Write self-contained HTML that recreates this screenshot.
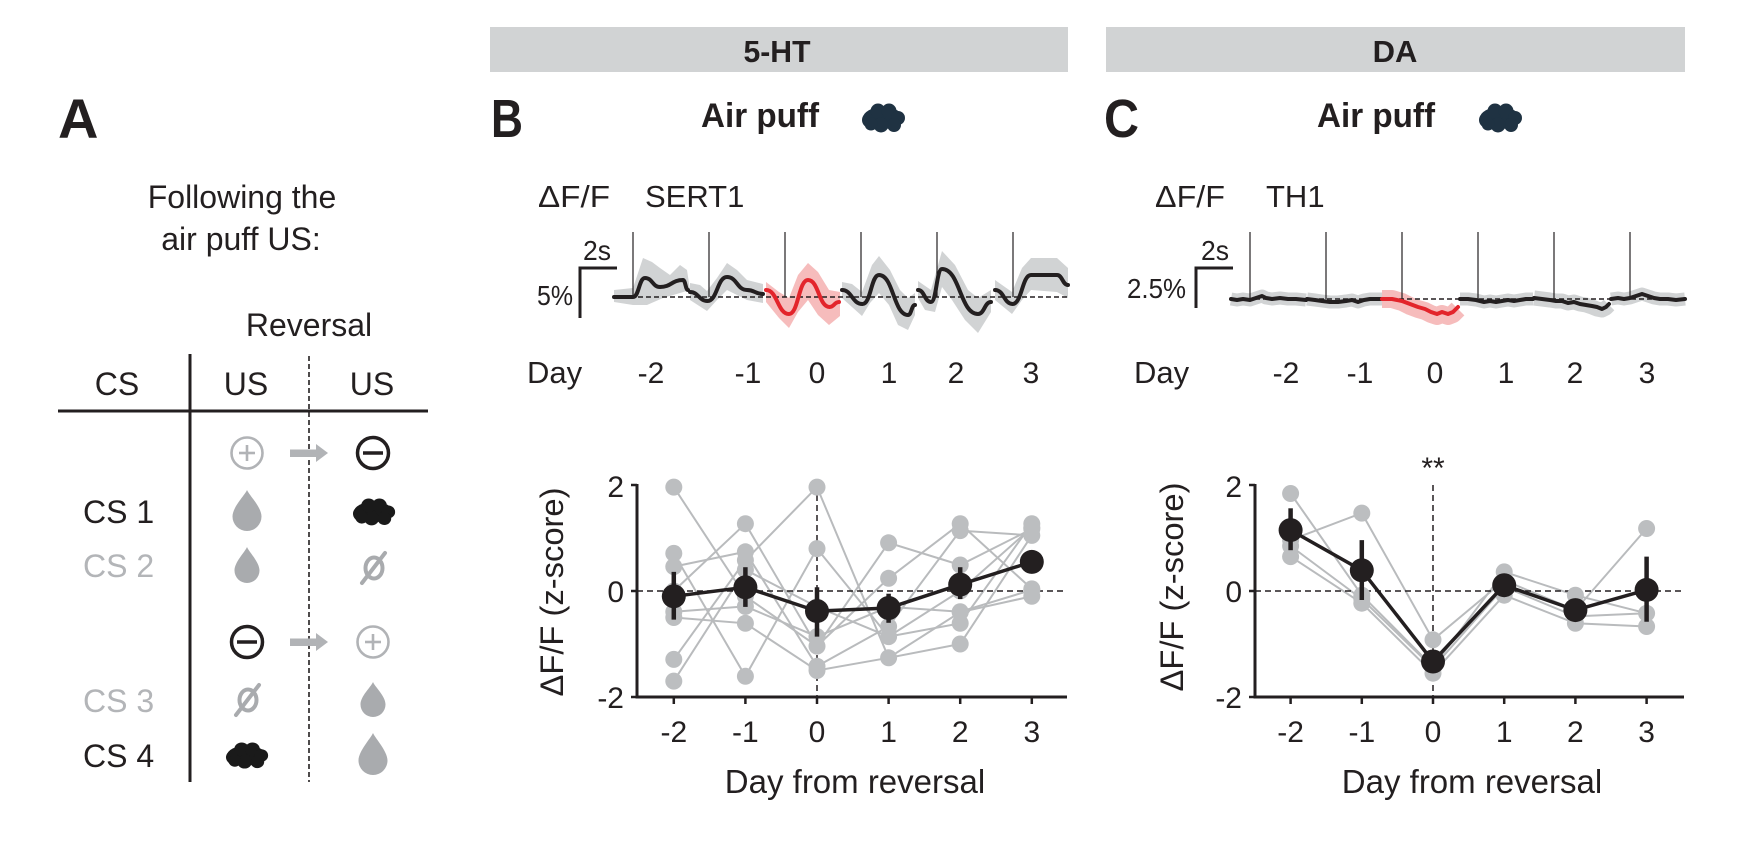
<!DOCTYPE html>
<html><head><meta charset="utf-8"><style>
html,body{margin:0;padding:0;background:#fff;}
svg{display:block;}
text{font-family:"Liberation Sans",Arial,sans-serif;fill:#231f20;}
</style></head><body>
<svg width="1737" height="860" viewBox="0 0 1737 860" xmlns="http://www.w3.org/2000/svg">
<rect width="1737" height="860" fill="#fff"/>

<!-- Header bars -->
<rect x="490" y="27" width="578" height="45" fill="#d1d3d4"/>
<text x="777" y="62" font-size="31" font-weight="bold" text-anchor="middle" textLength="67" lengthAdjust="spacingAndGlyphs">5-HT</text>
<rect x="1106" y="27" width="579" height="45" fill="#d1d3d4"/>
<text x="1395" y="62" font-size="31" font-weight="bold" text-anchor="middle">DA</text>

<!-- Panel letters -->
<text x="58" y="138" font-size="56" font-weight="bold">A</text>
<text x="491" y="137" font-size="54" font-weight="bold" textLength="32" lengthAdjust="spacingAndGlyphs">B</text>
<text x="1104" y="137" font-size="54" font-weight="bold" textLength="35" lengthAdjust="spacingAndGlyphs">C</text>

<!-- Air puff titles -->
<text x="701" y="127" font-size="34" font-weight="bold" textLength="118" lengthAdjust="spacingAndGlyphs">Air puff</text>
<text x="1317" y="127" font-size="34" font-weight="bold" textLength="118" lengthAdjust="spacingAndGlyphs">Air puff</text>
<g transform="translate(861,103)" fill="#1f3242">
<ellipse cx="22" cy="15" rx="20" ry="11"/><circle cx="9" cy="17" r="8"/><circle cx="17" cy="8" r="7.5"/><circle cx="28" cy="8" r="7.5"/><circle cx="37" cy="15" r="7"/><circle cx="33" cy="22" r="7"/><circle cx="20" cy="22" r="7.5"/><circle cx="10" cy="21" r="6.5"/>
</g>
<g transform="translate(1478,103)" fill="#1f3242">
<ellipse cx="22" cy="15" rx="20" ry="11"/><circle cx="9" cy="17" r="8"/><circle cx="17" cy="8" r="7.5"/><circle cx="28" cy="8" r="7.5"/><circle cx="37" cy="15" r="7"/><circle cx="33" cy="22" r="7"/><circle cx="20" cy="22" r="7.5"/><circle cx="10" cy="21" r="6.5"/>
</g>

<!-- ===== Panel A ===== -->
<text x="242" y="208" font-size="32" text-anchor="middle">Following the</text>
<text x="241" y="250" font-size="32" text-anchor="middle">air puff US:</text>
<text x="309" y="336" font-size="32" text-anchor="middle">Reversal</text>
<text x="117" y="395" font-size="32" text-anchor="middle">CS</text>
<text x="246" y="395" font-size="32" text-anchor="middle">US</text>
<text x="372" y="395" font-size="32" text-anchor="middle">US</text>
<line x1="58" y1="411" x2="428" y2="411" stroke="#231f20" stroke-width="3"/>
<line x1="190" y1="354" x2="190" y2="782" stroke="#231f20" stroke-width="3"/>
<line x1="309" y1="356" x2="309" y2="782" stroke="#231f20" stroke-width="1.6" stroke-dasharray="5 3"/>

<!-- row 1 icons -->
<circle cx="247" cy="453" r="15.5" fill="none" stroke="#b1b3b6" stroke-width="2.6"/>
<line x1="239" y1="453" x2="255" y2="453" stroke="#b1b3b6" stroke-width="2.6"/>
<line x1="247" y1="445" x2="247" y2="461" stroke="#b1b3b6" stroke-width="2.6"/>
<rect x="290" y="449.5" width="27" height="7.5" fill="#b1b3b6"/>
<polygon points="316,444 328,453 316,462" fill="#b1b3b6"/>
<circle cx="373" cy="453" r="15.5" fill="none" stroke="#231f20" stroke-width="3.5"/>
<line x1="363" y1="453" x2="383" y2="453" stroke="#231f20" stroke-width="3.5"/>

<!-- row 2 icons -->
<circle cx="247" cy="642" r="15.5" fill="none" stroke="#231f20" stroke-width="3.5"/>
<line x1="237" y1="642" x2="257" y2="642" stroke="#231f20" stroke-width="3.5"/>
<rect x="290" y="638.5" width="27" height="7.5" fill="#b1b3b6"/>
<polygon points="316,633 328,642 316,651" fill="#b1b3b6"/>
<circle cx="373" cy="642" r="15.5" fill="none" stroke="#b1b3b6" stroke-width="2.6"/>
<line x1="365" y1="642" x2="381" y2="642" stroke="#b1b3b6" stroke-width="2.6"/>
<line x1="373" y1="634" x2="373" y2="650" stroke="#b1b3b6" stroke-width="2.6"/>

<!-- CS labels -->
<text x="83" y="523" font-size="32">CS 1</text>
<text x="83" y="577" font-size="32" style="fill:#b3b5b8">CS 2</text>
<text x="83" y="712" font-size="32" style="fill:#b3b5b8">CS 3</text>
<text x="83" y="767" font-size="32">CS 4</text>

<!-- drops -->
<path d="M247,490 C249,495 261.5,507 261.5,516.5 A14.5,14.5 0 0 1 232.5,516.5 C232.5,507 245,495 247,490 Z" fill="#a9abae"/>
<path d="M247,547 C249,552 259.5,562 259.5,570.5 A12.5,12.5 0 0 1 234.5,570.5 C234.5,562 245,552 247,547 Z" fill="#a9abae"/>
<path d="M373,682 C375,687 385.5,696 385.5,704.5 A12.5,12.5 0 0 1 360.5,704.5 C360.5,696 371,687 373,682 Z" fill="#a9abae"/>
<path d="M373,733 C375,738 387.5,751 387.5,760.5 A14.5,14.5 0 0 1 358.5,760.5 C358.5,751 371,738 373,733 Z" fill="#a9abae"/>

<!-- null symbols -->
<ellipse cx="374" cy="568" rx="8.5" ry="10.5" fill="none" stroke="#a9abae" stroke-width="4"/>
<line x1="385" y1="553" x2="362" y2="583" stroke="#a9abae" stroke-width="4" stroke-linecap="round"/>
<ellipse cx="248" cy="700" rx="8.5" ry="10.5" fill="none" stroke="#a9abae" stroke-width="4"/>
<line x1="259" y1="685" x2="236" y2="715" stroke="#a9abae" stroke-width="4" stroke-linecap="round"/>

<!-- black clouds -->
<g transform="translate(352,498) scale(0.98,0.93)" fill="#1a1a1a">
<ellipse cx="22" cy="15" rx="20" ry="11"/><circle cx="9" cy="17" r="8"/><circle cx="17" cy="8" r="7.5"/><circle cx="28" cy="8" r="7.5"/><circle cx="37" cy="15" r="7"/><circle cx="33" cy="22" r="7"/><circle cx="20" cy="22" r="7.5"/><circle cx="10" cy="21" r="6.5"/>
</g>
<g transform="translate(225,742) scale(0.98,0.9)" fill="#1a1a1a">
<ellipse cx="22" cy="15" rx="20" ry="11"/><circle cx="9" cy="17" r="8"/><circle cx="17" cy="8" r="7.5"/><circle cx="28" cy="8" r="7.5"/><circle cx="37" cy="15" r="7"/><circle cx="33" cy="22" r="7"/><circle cx="20" cy="22" r="7.5"/><circle cx="10" cy="21" r="6.5"/>
</g>

<!-- ===== Panel B traces ===== -->
<text x="538" y="207" font-size="31" textLength="72" lengthAdjust="spacingAndGlyphs">ΔF/F</text>
<text x="645" y="207" font-size="31">SERT1</text>
<polyline points="580,318 580,268 617,268" fill="none" stroke="#231f20" stroke-width="3"/>
<text x="583" y="260" font-size="28" textLength="28" lengthAdjust="spacingAndGlyphs">2s</text>
<text x="573" y="305" font-size="28" text-anchor="end" textLength="36" lengthAdjust="spacingAndGlyphs">5%</text>

<!-- bands -->
<g stroke-linejoin="round">
<polygon fill="#d1d3d4" points="614,290 633,288 643,258 652,262 660,268 670,275 680,265 687,270 690,290 680,293 663,298 647,305 633,305 614,302"/>
<polygon fill="#d1d3d4" points="690,283 700,285 707,291 717,278 727,263 737,270 747,280 763,284 763,303 747,300 737,295 727,290 717,300 707,311 690,300"/>
<polygon fill="#f6bcbc" points="766,282 779,292 789,298 798,275 808,263 818,272 829,290 840,292 840,316 829,325 818,315 808,300 798,312 789,328 779,318 766,302"/>
<polygon fill="#d1d3d4" points="842,282 852,284 862,292 872,265 879,256 890,270 900,290 908,298 915,293 915,315 908,330 898,325 889,305 879,293 870,303 862,316 852,307 842,298"/>
<polygon fill="#d1d3d4" points="918,281 931,290 942,251 955,265 968,290 978,298 991,290 991,312 978,333 965,320 952,300 942,287 935,312 925,310 918,298"/>
<polygon fill="#d1d3d4" points="995,280 1012,292 1022,268 1031,258 1057,258 1068,268 1068,298 1057,292 1031,290 1022,300 1012,314 995,300"/>
</g>
<line x1="614" y1="297" x2="1067" y2="297" stroke="#231f20" stroke-width="1.5" stroke-dasharray="5 3"/>
<g stroke="#231f20" stroke-width="1.2">
<line x1="633" y1="232" x2="633" y2="297"/><line x1="709" y1="232" x2="709" y2="297"/><line x1="785" y1="232" x2="785" y2="297"/>
<line x1="861" y1="232" x2="861" y2="297"/><line x1="937" y1="232" x2="937" y2="297"/><line x1="1013" y1="232" x2="1013" y2="297"/>
</g>
<g fill="none" stroke-width="4" stroke-linejoin="round" stroke-linecap="round">
<path d="M614,297 L633,297 C639,297 639,278 645,278 C652.5,278 652.5,287 660,287 C671.5,287 671.5,280 683,280 C685.5,280 685.5,290 688,290" stroke="#231f20"/>
<path d="M690,292 C698.75,292 698.75,301 707.5,301 C717.25,301 717.25,277 727,277 C737,277 737,290 747,290 C755,290 755,294 763,294" stroke="#231f20"/>
<path d="M766,290 C777.5,290 777.5,314 789,314 C798.5,314 798.5,280 808,280 C818.75,280 818.75,307 829.5,307 C834.25,307 834.25,302 839,302" stroke="#e3242b"/>
<path d="M842,290 C852,290 852,304 862.5,304 C871,304 871,275 879,275 C893.5,275 893.5,315 908,315 C911.5,315 911.5,305 915,305" stroke="#231f20"/>
<path d="M918,290 C924.5,290 924.5,302 931,302 C936.5,302 936.5,269 942,269 C960,269 960,314 978,314 C984.5,314 984.5,302 991,302" stroke="#231f20"/>
<path d="M995,290 C1004,290 1004,304 1012.5,304 C1022,304 1022,275 1031,275 L1057,275 C1062.5,275 1062.5,285 1068,285" stroke="#231f20"/>
</g>
<text x="527" y="383" font-size="31">Day</text>
<g font-size="30" text-anchor="middle">
<text x="651" y="383">-2</text><text x="748" y="383">-1</text><text x="817" y="383">0</text>
<text x="889" y="383">1</text><text x="956" y="383">2</text><text x="1031" y="383">3</text>
</g>

<!-- ===== Panel B scatter ===== -->
<g fill="none" stroke="#b9bbbd" stroke-width="2">
<polyline points="673.8,487.1 745.4,596.3 817,646.1 888.6,578.3 960.2,523.7 1031.8,588.9"/>
<polyline points="673.8,553.4 745.4,676.3 817,548.6 888.6,636.6 960.2,623.3 1031.8,523.7"/>
<polyline points="673.8,566.6 745.4,551.8 817,666.3 888.6,626.5 960.2,530.6 1031.8,535.4"/>
<polyline points="673.8,591 745.4,523.7 817,646.1 888.6,542.8 960.2,565 1031.8,529"/>
<polyline points="673.8,611.7 745.4,606.4 817,636.6 888.6,606.9 960.2,611.7 1031.8,589.9"/>
<polyline points="673.8,617.5 745.4,623.3 817,670.5 888.6,657.8 960.2,644 1031.8,535.4"/>
<polyline points="673.8,659.4 745.4,560.3 817,487.1 888.6,657.8 960.2,612.2 1031.8,596.3"/>
<polyline points="673.8,681.1 745.4,569.8 817,606.9 888.6,636.6 960.2,591 1031.8,527.4"/>
</g>
<line x1="637" y1="591" x2="1067" y2="591" stroke="#231f20" stroke-width="1.5" stroke-dasharray="6 4"/>
<line x1="817" y1="485" x2="817" y2="697" stroke="#231f20" stroke-width="1.5" stroke-dasharray="6 4"/>
<g fill="#bcbec0">
<circle cx="673.8" cy="487.1" r="8.5"/><circle cx="673.8" cy="553.4" r="8.5"/><circle cx="673.8" cy="566.6" r="8.5"/><circle cx="673.8" cy="591" r="8.5"/><circle cx="673.8" cy="611.7" r="8.5"/><circle cx="673.8" cy="617.5" r="8.5"/><circle cx="673.8" cy="659.4" r="8.5"/><circle cx="673.8" cy="681.1" r="8.5"/>
<circle cx="745.4" cy="596.3" r="8.5"/><circle cx="745.4" cy="676.3" r="8.5"/><circle cx="745.4" cy="551.8" r="8.5"/><circle cx="745.4" cy="523.7" r="8.5"/><circle cx="745.4" cy="606.4" r="8.5"/><circle cx="745.4" cy="623.3" r="8.5"/><circle cx="745.4" cy="560.3" r="8.5"/><circle cx="745.4" cy="569.8" r="8.5"/>
<circle cx="817" cy="646.1" r="8.5"/><circle cx="817" cy="548.6" r="8.5"/><circle cx="817" cy="666.3" r="8.5"/><circle cx="817" cy="636.6" r="8.5"/><circle cx="817" cy="670.5" r="8.5"/><circle cx="817" cy="487.1" r="8.5"/><circle cx="817" cy="606.9" r="8.5"/>
<circle cx="888.6" cy="578.3" r="8.5"/><circle cx="888.6" cy="636.6" r="8.5"/><circle cx="888.6" cy="626.5" r="8.5"/><circle cx="888.6" cy="542.8" r="8.5"/><circle cx="888.6" cy="606.9" r="8.5"/><circle cx="888.6" cy="657.8" r="8.5"/>
<circle cx="960.2" cy="523.7" r="8.5"/><circle cx="960.2" cy="623.3" r="8.5"/><circle cx="960.2" cy="530.6" r="8.5"/><circle cx="960.2" cy="565" r="8.5"/><circle cx="960.2" cy="611.7" r="8.5"/><circle cx="960.2" cy="644" r="8.5"/><circle cx="960.2" cy="612.2" r="8.5"/><circle cx="960.2" cy="591" r="8.5"/>
<circle cx="1031.8" cy="588.9" r="8.5"/><circle cx="1031.8" cy="523.7" r="8.5"/><circle cx="1031.8" cy="535.4" r="8.5"/><circle cx="1031.8" cy="529" r="8.5"/><circle cx="1031.8" cy="589.9" r="8.5"/><circle cx="1031.8" cy="596.3" r="8.5"/><circle cx="1031.8" cy="527.4" r="8.5"/>
</g>
<polyline points="673.8,596.3 745.4,587.3 817,611.1 888.6,608 960.2,584.6 1031.8,561.9" fill="none" stroke="#231f20" stroke-width="3.5"/>
<g stroke="#231f20" stroke-width="4.5">
<line x1="673.8" y1="571.9" x2="673.8" y2="619.6"/><line x1="745.4" y1="567.2" x2="745.4" y2="606.9"/><line x1="817" y1="587.3" x2="817" y2="636.6"/>
<line x1="888.6" y1="593.7" x2="888.6" y2="622.8"/><line x1="960.2" y1="567.2" x2="960.2" y2="599"/><line x1="1031.8" y1="551.3" x2="1031.8" y2="572.5"/>
</g>
<g fill="#231f20">
<circle cx="673.8" cy="596.3" r="12"/><circle cx="745.4" cy="587.3" r="12"/><circle cx="817" cy="611.1" r="12"/><circle cx="888.6" cy="608" r="12"/><circle cx="960.2" cy="584.6" r="12"/><circle cx="1031.8" cy="561.9" r="12"/>
</g>
<polyline points="637,484 637,697 1067,697" fill="none" stroke="#231f20" stroke-width="3"/>
<g stroke="#231f20" stroke-width="2.5">
<line x1="631" y1="485" x2="637" y2="485"/><line x1="631" y1="591" x2="637" y2="591"/><line x1="631" y1="697" x2="637" y2="697"/>
<line x1="673.8" y1="697" x2="673.8" y2="704"/><line x1="745.4" y1="697" x2="745.4" y2="704"/><line x1="817" y1="697" x2="817" y2="704"/>
<line x1="888.6" y1="697" x2="888.6" y2="704"/><line x1="960.2" y1="697" x2="960.2" y2="704"/><line x1="1031.8" y1="697" x2="1031.8" y2="704"/>
</g>
<g font-size="30" text-anchor="end">
<text x="624" y="497">2</text><text x="624" y="602">0</text><text x="624" y="708">-2</text>
</g>
<g font-size="30" text-anchor="middle">
<text x="673.8" y="742">-2</text><text x="745.4" y="742">-1</text><text x="817" y="742">0</text>
<text x="888.6" y="742">1</text><text x="960.2" y="742">2</text><text x="1031.8" y="742">3</text>
</g>
<text x="855" y="793" font-size="33" text-anchor="middle">Day from reversal</text>
<text transform="translate(563,592) rotate(-90)" font-size="32" text-anchor="middle" textLength="209" lengthAdjust="spacingAndGlyphs">ΔF/F (z-score)</text>

<!-- ===== Panel C traces ===== -->
<text x="1155" y="207" font-size="31" textLength="70" lengthAdjust="spacingAndGlyphs">ΔF/F</text>
<text x="1266" y="207" font-size="31">TH1</text>
<polyline points="1196,308 1196,268 1233,268" fill="none" stroke="#231f20" stroke-width="3"/>
<text x="1201" y="260" font-size="28" textLength="28" lengthAdjust="spacingAndGlyphs">2s</text>
<text x="1186" y="298" font-size="28" text-anchor="end" textLength="59" lengthAdjust="spacingAndGlyphs">2.5%</text>

<g fill="none" stroke-linejoin="round" stroke-width="13">
<polyline stroke="#d1d3d4" points="1231,299 1237,300 1243,299 1250,300 1256,298 1262,296 1266,298 1272,299 1280,298 1288,299 1296,299 1306,300"/>
<polyline stroke="#d1d3d4" points="1307,299 1315,300 1322,301 1330,302 1338,302 1346,301 1352,300 1358,302 1364,300 1370,299 1376,299 1382,299"/>
<polyline stroke="#f6bcbc" stroke-width="18" points="1382,299 1392,299 1402,302 1410,306 1418,309 1425,311 1431,314 1437,316 1442,314 1448,316 1453,314 1458,309"/>
<polyline stroke="#d1d3d4" points="1460,299 1468,299 1476,300 1484,302 1490,301 1496,302 1502,301 1508,300 1514,301 1520,300 1526,299 1533,299"/>
<polyline stroke="#d1d3d4" stroke-width="15" points="1534,298 1542,299 1550,300 1556,301 1562,301 1568,303 1574,302 1580,304 1586,305 1592,307 1597,309 1602,310 1606,308 1609,305"/>
<polyline stroke="#d1d3d4" points="1611,299 1618,298 1624,299 1630,298 1636,296 1642,294 1648,296 1654,298 1660,299 1668,299 1676,300 1685,299"/>
</g>
<line x1="1231" y1="299" x2="1685" y2="299" stroke="#231f20" stroke-width="1.5" stroke-dasharray="5 3"/>
<g stroke="#231f20" stroke-width="1.2">
<line x1="1250" y1="232" x2="1250" y2="299"/><line x1="1326" y1="232" x2="1326" y2="299"/><line x1="1402" y1="232" x2="1402" y2="299"/>
<line x1="1478" y1="232" x2="1478" y2="299"/><line x1="1554" y1="232" x2="1554" y2="299"/><line x1="1630" y1="232" x2="1630" y2="299"/>
</g>
<g fill="none" stroke-linejoin="round" stroke-linecap="round" stroke-width="4">
<polyline stroke="#231f20" points="1231,299 1237,300 1243,299 1250,300 1256,298 1262,296 1266,298 1272,299 1280,298 1288,299 1296,299 1306,300"/>
<polyline stroke="#231f20" points="1307,299 1315,300 1322,301 1330,302 1338,302 1346,301 1352,300 1358,302 1364,300 1370,299 1376,299 1382,299"/>
<polyline stroke="#e3242b" points="1382,299 1392,299 1402,301 1410,304 1418,307 1425,309 1431,312 1437,314 1442,312 1448,314 1453,312 1458,307"/>
<polyline stroke="#231f20" points="1460,299 1468,299 1476,300 1484,302 1490,301 1496,302 1502,301 1508,300 1514,301 1520,300 1526,299 1533,299"/>
<polyline stroke="#231f20" points="1534,298 1542,299 1550,300 1556,301 1562,301 1568,303 1574,302 1580,304 1586,305 1592,306 1597,307 1602,309 1606,307 1609,304"/>
<polyline stroke="#231f20" points="1611,299 1618,298 1624,299 1630,298 1636,296 1642,294 1648,296 1654,298 1660,299 1668,299 1676,300 1685,299"/>
</g>
<text x="1134" y="383" font-size="31">Day</text>
<g font-size="30" text-anchor="middle">
<text x="1286" y="383">-2</text><text x="1360" y="383">-1</text><text x="1435" y="383">0</text>
<text x="1506" y="383">1</text><text x="1575" y="383">2</text><text x="1647" y="383">3</text>
</g>

<!-- ===== Panel C scatter ===== -->
<text x="1433" y="478" font-size="30" text-anchor="middle">**</text>
<g fill="none" stroke="#b9bbbd" stroke-width="2">
<polyline points="1290.6,493.5 1361.8,595.2 1433,666.8 1504.2,571.9 1575.4,595.2 1646.6,613.3"/>
<polyline points="1290.6,540.1 1361.8,513.1 1433,639.8 1504.2,580.4 1575.4,610.1 1646.6,528.5"/>
<polyline points="1290.6,556.6 1361.8,603.2 1433,673.2 1504.2,595.2 1575.4,623.3 1646.6,626.5"/>
<polyline points="1290.6,546 1361.8,599 1433,667.9 1504.2,586.8 1575.4,616.4 1646.6,613.3"/>
</g>
<line x1="1255" y1="591" x2="1684" y2="591" stroke="#231f20" stroke-width="1.5" stroke-dasharray="6 4"/>
<line x1="1433" y1="485" x2="1433" y2="697" stroke="#231f20" stroke-width="1.5" stroke-dasharray="6 4"/>
<g fill="#bcbec0">
<circle cx="1290.6" cy="493.5" r="8.5"/><circle cx="1290.6" cy="540.1" r="8.5"/><circle cx="1290.6" cy="556.6" r="8.5"/><circle cx="1290.6" cy="546" r="8.5"/>
<circle cx="1361.8" cy="595.2" r="8.5"/><circle cx="1361.8" cy="513.1" r="8.5"/><circle cx="1361.8" cy="603.2" r="8.5"/><circle cx="1361.8" cy="599" r="8.5"/>
<circle cx="1433" cy="666.8" r="8.5"/><circle cx="1433" cy="639.8" r="8.5"/><circle cx="1433" cy="673.2" r="8.5"/><circle cx="1433" cy="667.9" r="8.5"/>
<circle cx="1504.2" cy="571.9" r="8.5"/><circle cx="1504.2" cy="580.4" r="8.5"/><circle cx="1504.2" cy="595.2" r="8.5"/><circle cx="1504.2" cy="586.8" r="8.5"/>
<circle cx="1575.4" cy="595.2" r="8.5"/><circle cx="1575.4" cy="610.1" r="8.5"/><circle cx="1575.4" cy="623.3" r="8.5"/><circle cx="1575.4" cy="616.4" r="8.5"/>
<circle cx="1646.6" cy="613.3" r="8.5"/><circle cx="1646.6" cy="528.5" r="8.5"/><circle cx="1646.6" cy="626.5" r="8.5"/>
</g>
<polyline points="1290.6,530.1 1361.8,570.3 1433,661.5 1504.2,585.2 1575.4,610.1 1646.6,589.9" fill="none" stroke="#231f20" stroke-width="3.5"/>
<g stroke="#231f20" stroke-width="4.5">
<line x1="1290.6" y1="508.3" x2="1290.6" y2="550.2"/><line x1="1361.8" y1="540.1" x2="1361.8" y2="600"/>
<line x1="1646.6" y1="556.6" x2="1646.6" y2="621.7"/>
</g>
<g fill="#231f20">
<circle cx="1290.6" cy="530.1" r="12"/><circle cx="1361.8" cy="570.3" r="12"/><circle cx="1433" cy="661.5" r="12"/><circle cx="1504.2" cy="585.2" r="12"/><circle cx="1575.4" cy="610.1" r="12"/><circle cx="1646.6" cy="589.9" r="12"/>
</g>
<polyline points="1255,484 1255,697 1684,697" fill="none" stroke="#231f20" stroke-width="3"/>
<g stroke="#231f20" stroke-width="2.5">
<line x1="1249" y1="485" x2="1255" y2="485"/><line x1="1249" y1="591" x2="1255" y2="591"/><line x1="1249" y1="697" x2="1255" y2="697"/>
<line x1="1290.6" y1="697" x2="1290.6" y2="704"/><line x1="1361.8" y1="697" x2="1361.8" y2="704"/><line x1="1433" y1="697" x2="1433" y2="704"/>
<line x1="1504.2" y1="697" x2="1504.2" y2="704"/><line x1="1575.4" y1="697" x2="1575.4" y2="704"/><line x1="1646.6" y1="697" x2="1646.6" y2="704"/>
</g>
<g font-size="30" text-anchor="end">
<text x="1242" y="497">2</text><text x="1242" y="602">0</text><text x="1242" y="708">-2</text>
</g>
<g font-size="30" text-anchor="middle">
<text x="1290.6" y="742">-2</text><text x="1361.8" y="742">-1</text><text x="1433" y="742">0</text>
<text x="1504.2" y="742">1</text><text x="1575.4" y="742">2</text><text x="1646.6" y="742">3</text>
</g>
<text x="1472" y="793" font-size="33" text-anchor="middle">Day from reversal</text>
<text transform="translate(1183,587) rotate(-90)" font-size="32" text-anchor="middle" textLength="209" lengthAdjust="spacingAndGlyphs">ΔF/F (z-score)</text>
</svg>
</body></html>
